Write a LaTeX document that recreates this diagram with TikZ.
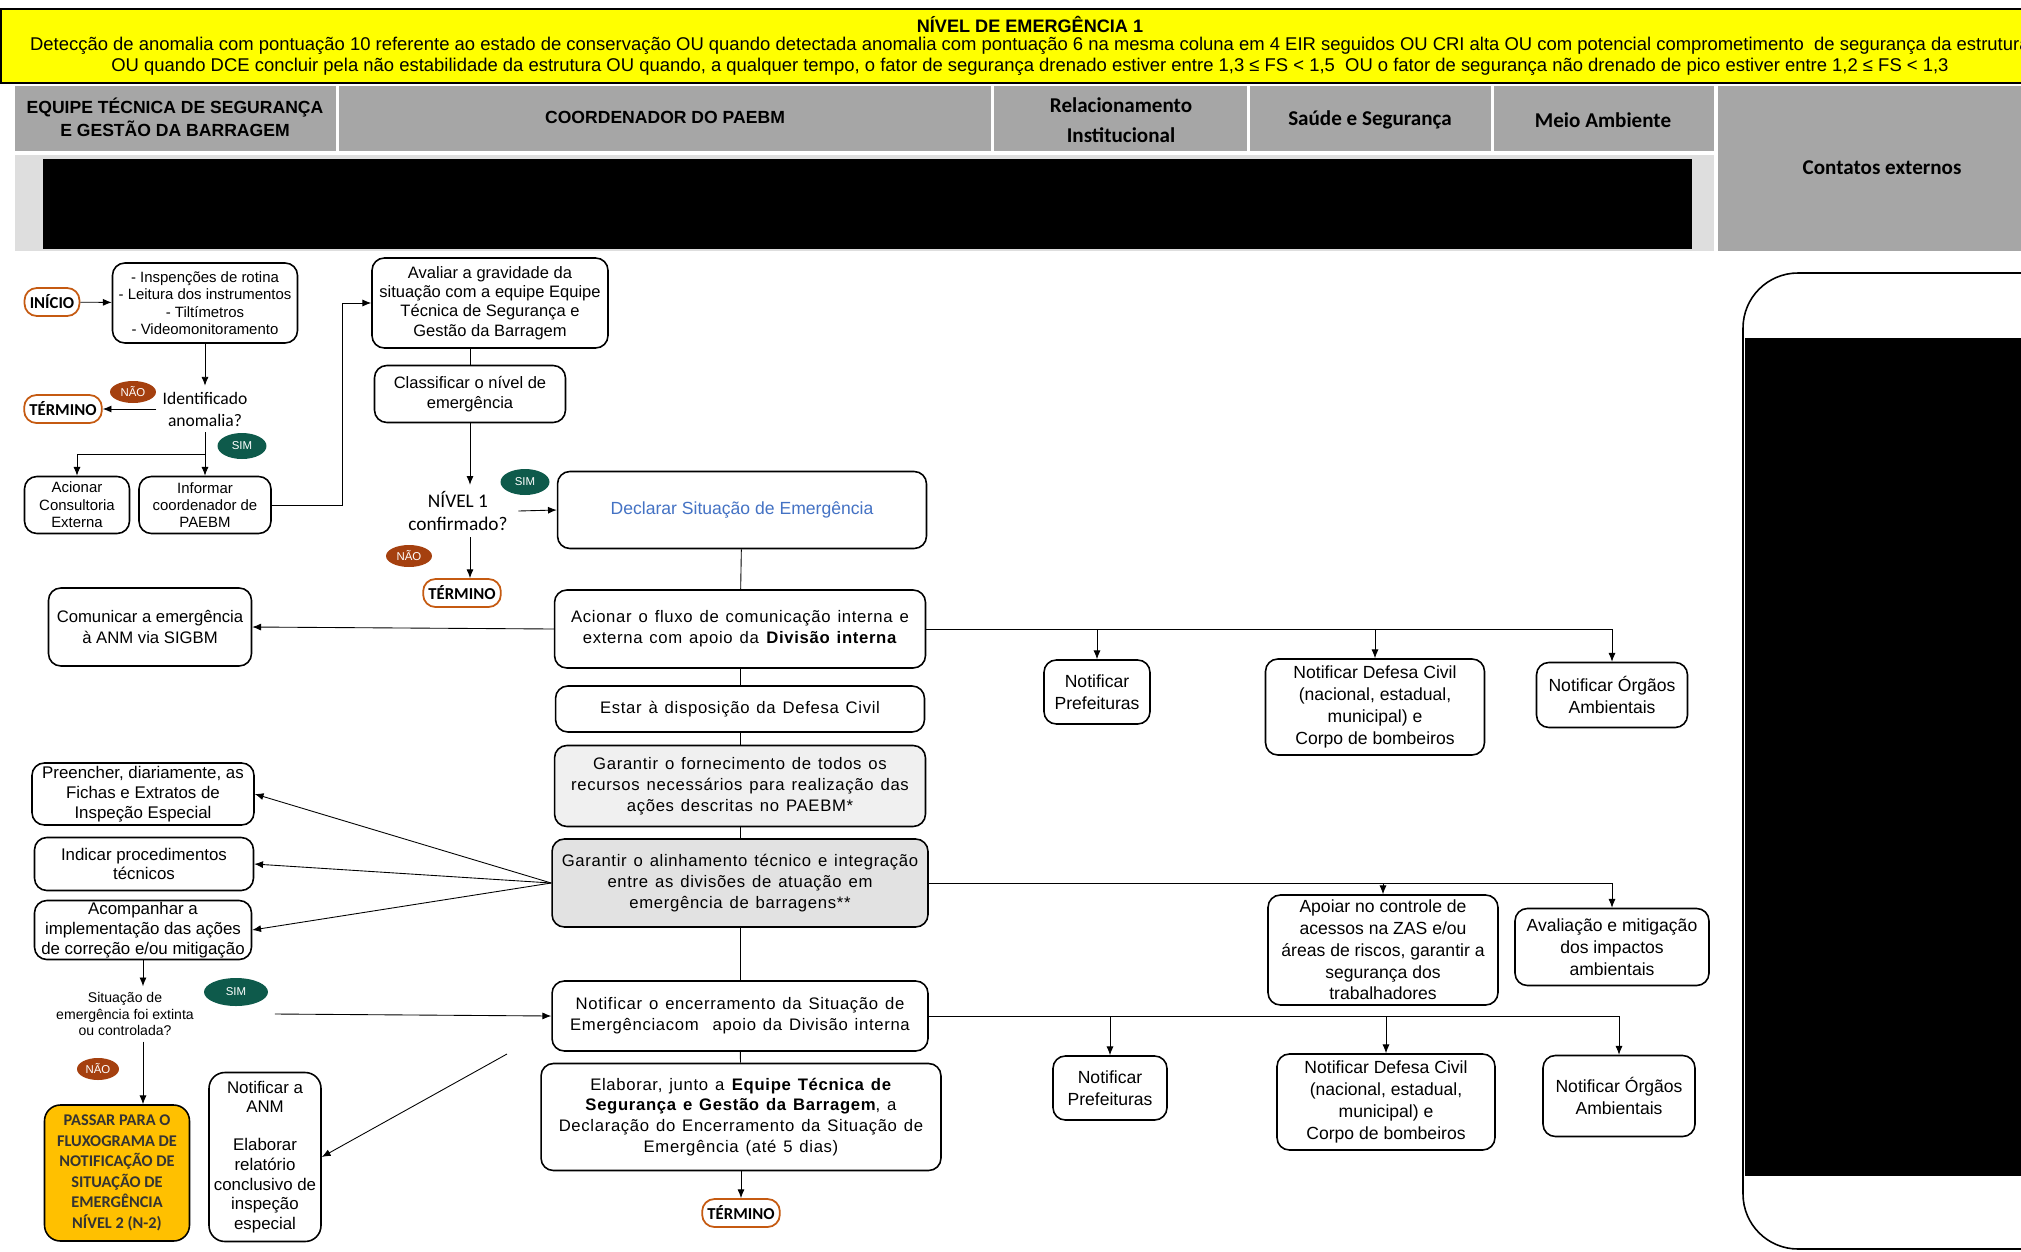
\documentclass[tikz,border=0pt]{standalone}
\usepackage{fontspec}
\setmainfont{Liberation Sans}
\newfontfamily\calib{Carlito}
\newfontfamily\largo[LetterSpace=4, WordSpace=1.3]{Liberation Sans}
\usetikzlibrary{arrows.meta, shapes.geometric}
\definecolor{amarelo}{HTML}{FFFF00}
\definecolor{cinza}{HTML}{A6A6A6}
\definecolor{cinzaclaro}{HTML}{DEDEDE}
\definecolor{laranja}{HTML}{C55A11}
\definecolor{naocor}{HTML}{A5400F}
\definecolor{simcor}{HTML}{0E5A4B}
\definecolor{azul}{HTML}{4472C4}
\definecolor{ouro}{HTML}{FFC000}
\definecolor{fundoA}{HTML}{F0F0F0}
\definecolor{fundoB}{HTML}{E2E2E2}
\tikzset{
  caixa/.style={draw, line width=0.9pt, rounded corners=7pt, fill=white, align=center, inner sep=1pt},
  pq/.style={font=\fontsize{8.5}{9.9}\selectfont},
  md/.style={font=\fontsize{9.6}{11.3}\selectfont},
  dir/.style={font=\fontsize{10}{12.4}\selectfont},
  gd/.style={font=\largo\fontsize{9.5}{11.9}\selectfont},
  fim/.style={draw=laranja, line width=1pt, rounded corners=7pt, fill=white, inner sep=3pt,
    minimum height=0.56cm, font=\calib\bfseries\fontsize{9.5}{11}\selectfont},
  simbadge/.style={ellipse, fill=simcor, text=white, inner sep=0pt,
    minimum width=0.98cm, minimum height=0.52cm, font=\fontsize{6.5}{7}\selectfont},
  naobadge/.style={ellipse, fill=naocor, text=white, inner sep=0pt,
    minimum width=0.92cm, minimum height=0.44cm, font=\fontsize{6.5}{7}\selectfont},
  seta/.style={-{Latex[length=5pt,width=4pt]}, line width=0.5pt},
  liga/.style={line width=0.5pt}
}

\begin{document}
\begin{tikzpicture}[x=0.02cm, y=-0.02cm]
  \useasboundingbox (0,0) rectangle (2021,1251);
  \clip (0,0) rectangle (2021,1251);
  % cabecalho
  \draw[fill=amarelo, line width=0.9pt] (1,9) rectangle (2040,83);
  \node[font=\bfseries\fontsize{10.3}{12}\selectfont] (titulo) at (1030,24) {NÍVEL DE EMERGÊNCIA 1};
  \node[font=\fontsize{10.5}{12}\selectfont] (cond1) at (1030,46) {Detecção de anomalia com pontuação 10 referente ao estado de conservação OU quando detectada anomalia com pontuação 6 na mesma coluna em 4 EIR seguidos OU CRI alta OU com potencial comprometimento\ \ de segurança da estrutura};
  \node[font=\fontsize{10.5}{12}\selectfont] (cond2) at (1030,67) {OU quando DCE concluir pela não estabilidade da estrutura OU quando, a qualquer tempo, o fator de segurança drenado estiver entre 1,3 ≤ FS < 1,5\ \ OU o fator de segurança não drenado de pico estiver entre 1,2 ≤ FS < 1,3};
  \fill[cinza] (15,86) rectangle (1714,151);
  \fill[cinza] (1718,86) rectangle (2030,251);
  \fill[cinzaclaro] (15,155) rectangle (1714,251);
  \foreach \xc in {338,993,1249,1493}
    \fill[white] (\xc-2,86) rectangle (\xc+1,151);
  \fill[black] (43,159) rectangle (1692,249);
  \node[font=\bfseries\fontsize{10}{13}\selectfont, align=center] (equipe) at (175,117) {EQUIPE TÉCNICA DE SEGURANÇA\\E GESTÃO DA BARRAGEM};
  \node[font=\bfseries\fontsize{10}{13}\selectfont] (coord) at (665,117) {COORDENADOR DO PAEBM};
  \node[font=\calib\bfseries\fontsize{12}{17}\selectfont, align=center] (relac) at (1121,120) {Relacionamento\\Institucional};
  \node[font=\calib\bfseries\fontsize{12}{14}\selectfont] (saude) at (1370,120) {Saúde e Segurança};
  \node[font=\calib\bfseries\fontsize{12}{14}\selectfont] (meio) at (1603,120) {Meio Ambiente};
  \node[font=\calib\bfseries\fontsize{12}{14}\selectfont] (contatos) at (1882,168) {Contatos externos};
  % contatos externos
  \draw[line width=0.9pt, rounded corners=1.1cm, fill=white] (1743,273) rectangle (2090,1249);
  \fill[black] (1745,338) rectangle (2030,1176);

  % equipe tecnica
  \node[fim] (ini) at (52,302) {INÍCIO};
  \node[caixa, pq, minimum width=3.7cm, minimum height=1.6cm] (insp) at (205,303) {- Inspenções de rotina\\- Leitura dos instrumentos\\- Tiltímetros\\- Videomonitoramento};
  \node[font=\calib\fontsize{10}{12.5}\selectfont, align=center] (ident) at (205,409) {Identificado\\anomalia?};
  \node[fim] (term1) at (63,409) {TÉRMINO};
  \node[naobadge] (nao1) at (133,392) {NÃO};
  \node[simbadge] (sim1) at (242,446) {SIM};
  \node[caixa, pq, minimum width=2.1cm, minimum height=1.14cm] (acion) at (77,505) {Acionar\\Consultoria\\Externa};
  \node[caixa, pq, minimum width=2.64cm, minimum height=1.14cm] (inform) at (205,505) {Informar\\coordenador de\\PAEBM};
  \draw[seta] (ini) -- (insp);
  \draw[seta] (insp) -- (ident);
  \draw[seta] (ident) -- (term1);
  \draw[seta] (ident) -- (inform);
  \coordinate (ramo) at (205,454);
  \draw[seta] (ramo) -| (acion.north);

  % coordenador
  \node[caixa, minimum width=4.72cm, minimum height=1.8cm, font=\fontsize{9.4}{11}\selectfont] (aval) at (490,303) {Avaliar a gravidade da\\situação com a equipe Equipe\\Técnica de Segurança e\\Gestão da Barragem};
  \node[caixa, minimum width=3.82cm, minimum height=1.14cm, font=\fontsize{9.4}{11.4}\selectfont] (class) at (470,394) {Classificar o nível de\\emergência};
  \node[font=\calib\fontsize{11}{13.5}\selectfont, align=center, minimum width=2.4cm] (nivel) at (458,511) {NÍVEL 1\\confirmado?};
  \node[simbadge] (sim2) at (525,482) {SIM};
  \node[naobadge] (nao2) at (409,556) {NÃO};
  \node[fim] (term2) at (462,593) {TÉRMINO};
  \node[caixa, minimum width=7.38cm, minimum height=1.54cm, text=azul, font=\fontsize{10}{12}\selectfont] (decl) at (742,510) {Declarar Situação de Emergência};
  \draw[seta] (inform.east) -- ++(71,0) |- (aval.west);
  \draw[liga] (class.north) -- (class.north |- aval.south);
  \draw[seta] (class.south) -- (class.south |- nivel.north);
  \draw[seta] (nivel.east) -- (decl.west);
  \draw[seta] (class.south |- nivel.south) -- (class.south |- term2.north);

  \node[caixa, gd, minimum width=7.42cm, minimum height=1.56cm] (fluxo) at (740,629) {Acionar o fluxo de comunicação interna e\\externa com apoio da \textbf{Divisão interna}};
  \node[caixa, md, font=\fontsize{9.5}{11.7}\selectfont, minimum width=4.06cm, minimum height=1.56cm] (comun) at (150,627) {Comunicar a emergência\\à ANM via SIGBM};
  \node[caixa, gd, minimum width=7.38cm, minimum height=0.92cm] (estar) at (740,709) {Estar à disposição da Defesa Civil};
  \node[caixa, gd, fill=fundoA, minimum width=7.42cm, minimum height=1.62cm] (forn) at (740,786) {Garantir o fornecimento de todos os\\recursos necessários para realização das\\ações descritas no PAEBM*};
  \node[caixa, gd, fill=fundoB, minimum width=7.52cm, minimum height=1.76cm] (alin) at (740,883) {Garantir o alinhamento técnico e integração\\entre as divisões de atuação em\\emergência de barragens**};
  \node[caixa, gd, minimum width=7.52cm, minimum height=1.4cm] (encer) at (740,1016) {Notificar o encerramento da Situação de\\Emergênciacom\ \ apoio da Divisão interna};
  \node[caixa, gd, minimum width=8cm, minimum height=2.14cm] (elab) at (741,1117) {Elaborar, junto a \textbf{Equipe Técnica de}\\\textbf{Segurança e Gestão da Barragem}, a\\Declaração do Encerramento da Situação de\\Emergência (até 5 dias)};
  \node[fim] (term3) at (741,1213) {TÉRMINO};
  \draw[liga] (decl) -- (fluxo);
  \draw[liga] (fluxo) -- (estar);
  \draw[liga] (estar) -- (forn);
  \draw[liga] (forn) -- (alin);
  \draw[liga] (alin) -- (encer);
  \draw[liga] (encer) -- (elab);
  \draw[seta] (elab) -- (term3);
  \draw[seta] (fluxo.west) -- (comun.east);

  % acoes da equipe tecnica
  \node[caixa, md, minimum width=4.44cm, minimum height=1.24cm] (preen) at (143,794) {Preencher, diariamente, as\\Fichas e Extratos de\\Inspeção Especial};
  \node[caixa, md, minimum width=4.38cm, minimum height=1.06cm] (indic) at (144,864) {Indicar procedimentos\\técnicos};
  \node[caixa, md, minimum width=4.34cm, minimum height=1.16cm] (acomp) at (143,930) {Acompanhar a\\implementação das ações\\de correção e/ou mitigação};
  \foreach \n in {preen,indic,acomp}
    \draw[seta] (alin.west) -- (\n.east);
  \node[font=\fontsize{8}{9.3}\selectfont, align=center] (situ) at (125,1014) {Situação de\\emergência foi extinta\\ou controlada?};
  \node[simbadge, minimum width=1.28cm, minimum height=0.56cm] (sim3) at (236,992) {SIM};
  \node[naobadge, minimum width=0.84cm] (nao3) at (98,1069) {NÃO};
  \node[caixa, fill=ouro, text=black!80, minimum width=2.9cm, minimum height=2.72cm, rounded corners=9pt,
    font=\calib\bfseries\fontsize{9.3}{11.7}\selectfont] (passar) at (117,1173) {PASSAR PARA O\\FLUXOGRAMA DE\\NOTIFICAÇÃO DE\\SITUAÇÃO DE\\EMERGÊNCIA\\NÍVEL 2 (N-2)};
  \node[caixa, md, minimum width=2.24cm, minimum height=3.38cm, rounded corners=9pt] (anm) at (265,1157) {Notificar a\\ANM\\[10pt]Elaborar\\relatório\\conclusivo de\\inspeção\\especial};
  \draw[seta] (acomp.south) -- (acomp.south |- situ.north);
  \draw[seta] ([xshift=1.5cm]situ.east) -- (encer.west);
  \draw[seta] (acomp.south |- situ.south) -- (acomp.south |- passar.north);
  \coordinate (livre) at (507,1054);
  \draw[seta] (livre) -- (anm.east);

  % relacionamento, saude e meio ambiente
  \node[caixa, dir, minimum width=2.12cm, minimum height=1.28cm] (pref1) at (1097,692) {Notificar\\Prefeituras};
  \node[caixa, dir, minimum width=4.38cm, minimum height=1.92cm] (defc1) at (1375,707) {Notificar Defesa Civil\\(nacional, estadual,\\municipal) e\\Corpo de bombeiros};
  \node[caixa, dir, minimum width=3.02cm, minimum height=1.3cm] (orga1) at (1612,695) {Notificar Órgãos\\Ambientais};
  \node[caixa, dir, minimum width=4.6cm, minimum height=2.2cm] (apoi) at (1383,950) {Apoiar no controle de\\acessos na ZAS e/ou\\áreas de riscos, garantir a\\segurança dos\\trabalhadores};
  \node[caixa, dir, minimum width=3.88cm, minimum height=1.54cm] (avali) at (1612,947) {Avaliação e mitigação\\dos impactos\\ambientais};
  \node[caixa, dir, minimum width=2.28cm, minimum height=1.28cm] (pref2) at (1110,1088) {Notificar\\Prefeituras};
  \node[caixa, dir, minimum width=4.36cm, minimum height=1.92cm] (defc2) at (1386,1102) {Notificar Defesa Civil\\(nacional, estadual,\\municipal) e\\Corpo de bombeiros};
  \node[caixa, dir, minimum width=3.04cm, minimum height=1.62cm] (orga2) at (1619,1096) {Notificar Órgãos\\Ambientais};
  \draw[liga] (fluxo.east) -- (fluxo.east -| orga1.north);
  \foreach \n in {pref1,defc1,orga1}
    \draw[seta] (\n.north |- fluxo.east) -- (\n.north);
  \draw[liga] (alin.east) -- (alin.east -| avali.north);
  \foreach \n in {apoi,avali}
    \draw[seta] (\n.north |- alin.east) -- (\n.north);
  \draw[liga] (encer.east) -- (encer.east -| orga2.north);
  \foreach \n in {pref2,defc2,orga2}
    \draw[seta] (\n.north |- encer.east) -- (\n.north);
\end{tikzpicture}
\end{document}
